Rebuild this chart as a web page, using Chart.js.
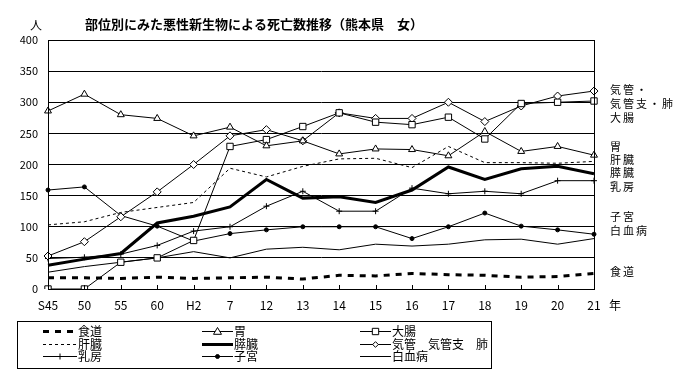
<!DOCTYPE html>
<html>
<head>
<meta charset="utf-8">
<script src="https://cdn.jsdelivr.net/npm/chart.js@4.4.1/dist/chart.umd.min.js"></script>
<style>
  html, body { margin: 0; padding: 0; background: #fff; }
  #wrap { width: 674px; height: 387px; }
</style>
</head>
<body>
<div id="wrap"><canvas id="cancerChart" width="674" height="387"></canvas></div>
<script>
// years (昭和 S45 ... 平成 21)
const years = ['S45', '50', '55', '60', 'H2', '7', '12', '13', '14', '15', '16', '17', '18', '19', '20', '21'];
const yTicks = [0, 50, 100, 150, 200, 250, 300, 350, 400];

const esophagus = [18, 18, 17, 19, 17, 18, 19, 16, 22, 21, 25, 23, 22, 19, 20, 25];
const stomach = [286, 313, 280, 274, 246, 260, 230, 238, 217, 225, 224, 214, 253, 221, 229, 215];
const colon = [0, 0, 43, 50, 78, 229, 240, 261, 283, 268, 264, 276, 241, 298, 300, 302];
const liver = [103, 108, 123, 131, 139, 194, 180, 197, 209, 210, 195, 229, 203, 203, 202, 205];
const pancreas = [38, 48, 57, 106, 117, 132, 176, 146, 148, 139, 159, 196, 176, 193, 197, 185];
const lung = [53, 76, 116, 156, 200, 246, 256, 238, 283, 274, 274, 300, 269, 294, 310, 318];
const breast = [49, 51, 56, 70, 93, 100, 133, 157, 125, 125, 162, 153, 157, 153, 174, 174];
const uterus = [159, 164, 118, 101, 77, 89, 95, 100, 100, 100, 81, 100, 122, 101, 95, 88];
const leukemia = [27, 36, 43, 50, 60, 50, 64, 67, 63, 72, 69, 72, 79, 80, 72, 81];

const FONT = '"Noto Sans CJK JP", "Noto Sans", sans-serif';

function series(label, data, extra) {
  return Object.assign({
    label,
    data,
    borderColor: '#000',
    backgroundColor: '#fff',
    borderWidth: 1,
    pointRadius: 0,
    pointBorderColor: '#000',
    pointBackgroundColor: '#fff',
    pointBorderWidth: 1,
    tension: 0,
    fill: false,
  }, extra);
}

const datasets = [
  series('食道', esophagus, { borderWidth: 3, borderDash: [6, 6] }),
  series('胃', stomach, { pointStyle: 'triangle', pointRadius: 4 }),
  series('大腸', colon, { pointStyle: 'rect', pointRadius: 4.5 }),
  series('肝臓', liver, { borderDash: [3, 3] }),
  series('膵臓', pancreas, { borderWidth: 3 }),
  series('気管　気管支　肺', lung, { pointStyle: 'rectRot', pointRadius: 4 }),
  series('乳房', breast, { pointStyle: 'cross', pointRadius: 3 }),
  series('子宮', uterus, { pointStyle: 'circle', pointRadius: 2, pointBackgroundColor: '#000' }),
  series('白血病', leukemia, {}),
];

// labels at the right of the plot
const sideLabels = [
  ['気管・', 90], ['気管支・肺', 104], ['大腸', 118],
  ['胃', 147], ['肝臓', 160], ['膵臓', 173], ['乳房', 187],
  ['子宮', 217], ['白血病', 231], ['食道', 272],
];

function marker(ctx, ds, x, y) {
  const r = ds.pointRadius;
  if (!r) return;
  ctx.save();
  ctx.setLineDash([]);
  ctx.lineWidth = 1;
  ctx.strokeStyle = '#000';
  ctx.fillStyle = ds.pointBackgroundColor;
  ctx.beginPath();
  if (ds.pointStyle === 'triangle') {
    ctx.moveTo(x, y - r);
    ctx.lineTo(x + r, y + r * 0.7);
    ctx.lineTo(x - r, y + r * 0.7);
    ctx.closePath();
  } else if (ds.pointStyle === 'rect') {
    const s = r * Math.SQRT1_2;
    ctx.rect(x - s, y - s, 2 * s, 2 * s);
  } else if (ds.pointStyle === 'rectRot') {
    const s = r * Math.SQRT1_2;
    ctx.moveTo(x, y - s); ctx.lineTo(x + s, y); ctx.lineTo(x, y + s); ctx.lineTo(x - s, y);
    ctx.closePath();
  } else if (ds.pointStyle === 'cross') {
    ctx.moveTo(x, y - r); ctx.lineTo(x, y + r);
    ctx.moveTo(x - r, y); ctx.lineTo(x + r, y);
  } else {
    ctx.arc(x, y, r, 0, Math.PI * 2);
  }
  if (ds.pointStyle !== 'cross') ctx.fill();
  ctx.stroke();
  ctx.restore();
}

const decorations = {
  id: 'decorations',
  afterDraw(chart) {
    const { ctx, chartArea: a } = chart;
    const xs = chart.scales.x;
    ctx.save();
    // frame
    ctx.strokeStyle = '#000';
    ctx.lineWidth = 1;
    ctx.strokeRect(Math.round(a.left) + 0.5, Math.round(a.top) + 0.5, Math.round(a.width), Math.round(a.height));
    // inner tick marks
    ctx.beginPath();
    years.forEach((_, i) => {
      const x = Math.round(xs.getPixelForValue(i)) + 0.5;
      ctx.moveTo(x, a.bottom);
      ctx.lineTo(x, a.bottom - 4);
    });
    ctx.stroke();

    ctx.fillStyle = '#000';
    ctx.textBaseline = 'middle';
    // title
    ctx.font = 'bold 13px ' + FONT;
    ctx.textAlign = 'center';
    ctx.fillText('部位別にみた悪性新生物による死亡数推移（熊本県　女）', 254, 24);
    ctx.font = '12px ' + FONT;
    ctx.fillText('人', 36, 25);
    ctx.textAlign = 'left';
    ctx.fillText('年', 609, 305);
    ctx.font = '11px ' + FONT;
    ctx.letterSpacing = '2px';
    sideLabels.forEach(([t, y]) => ctx.fillText(t, 610, y));
    ctx.letterSpacing = '0px';

    // legend box
    ctx.strokeRect(17.5, 321.5, 474, 47);
    const cols = [[43, 77], [202, 233], [360, 391]];
    const rows = [331, 343.5, 356];
    chart.data.datasets.forEach((ds, i) => {
      const [x0, x1] = cols[i % 3];
      const y = Math.round(rows[Math.floor(i / 3)]) + (ds.borderWidth % 2 ? 0.5 : 0);
      ctx.save();
      ctx.strokeStyle = '#000';
      ctx.lineWidth = ds.borderWidth;
      ctx.setLineDash(ds.borderDash || []);
      ctx.beginPath();
      ctx.moveTo(x0, y);
      ctx.lineTo(x1, y);
      ctx.stroke();
      ctx.restore();
      marker(ctx, ds, (x0 + x1) / 2, y);
      ctx.font = '12px ' + FONT;
      ctx.fillText(ds.label, x1 + 1, y);
    });
    ctx.restore();
  },
};

new Chart(document.getElementById('cancerChart'), {
  type: 'line',
  data: { labels: years, datasets },
  options: {
    responsive: false,
    animation: false,
    devicePixelRatio: 1,
    layout: { padding: { left: 0, right: 80, top: 40, bottom: 68 } },
    plugins: { legend: { display: false }, tooltip: { enabled: false } },
    scales: {
      x: {
        offset: false,
        grid: { display: false, drawTicks: false },
        border: { display: true, color: '#000' },
        ticks: { color: '#000', font: { family: FONT, size: 12 }, padding: 9, autoSkip: false, maxRotation: 0 },
        afterFit: (s) => { s.height = 30; },
      },
      y: {
        min: 0,
        max: 400,
        afterBuildTicks: (s) => { s.ticks = yTicks.map((v) => ({ value: v })); },
        grid: { color: '#000', lineWidth: 1, drawTicks: false },
        border: { display: true, color: '#000' },
        ticks: { color: '#000', font: { family: FONT, size: 11 }, padding: 10 },
        afterFit: (s) => { s.width = 48; },
      },
    },
  },
  plugins: [decorations],
});
</script>
</body>
</html>
